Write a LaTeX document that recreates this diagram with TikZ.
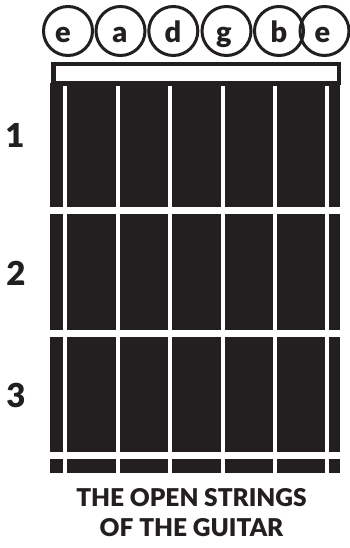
\documentclass[tikz,border=0pt]{standalone}
\usepackage{fontspec}
\setmainfont{Lato}[BoldFont={Lato Black}]
\definecolor{ink}{HTML}{231F20}
\tikzset{
  stringring/.style={circle, draw=ink, line width=3pt, minimum size=49pt, inner sep=0pt},
  stringname/.style={anchor=base, text=ink, font=\fontsize{29}{30}\selectfont\bfseries},
  fretnum/.style={anchor=base, text=ink, font=\fontsize{33}{35}\selectfont\bfseries},
  captionline/.style={anchor=base, text=ink, font=\fontsize{24.5}{26}\selectfont\bfseries},
  gap/.style={fill=white}
}
\begin{document}
\begin{tikzpicture}[x=1pt,y=-1pt]
\useasboundingbox (0,0) rectangle (350,548);
% fretboard
\fill[ink] (50,83) rectangle (340,473);
% nut
\draw[ink, line width=4.5pt] (53.25,64.25) rectangle (338.75,83);
% strings
\foreach \sx in {65,117.5,170,222.5,275,327}
  \fill[gap] (\sx-2,86) rectangle (\sx+2,473);
% frets
\foreach \fy in {207,330,452}
  \fill[gap] (50,\fy) rectangle (340,\fy+7);
% string circles
\node[stringring] (c1) at (68,31) {};
\node[stringring] (c2) at (120.5,31) {};
\node[stringring] (c3) at (173.3,31) {};
\node[stringring] (c4) at (226.5,31) {};
\node[stringring] (c5) at (279,31) {};
\node[stringring] (c6) at (324.5,31) {};
\node[stringname] (l1) at (63,43) {e};
\node[stringname] (l2) at (120,43) {a};
\node[stringname] (l3) at (173,43) {d};
\node[stringname] (l4) at (224,43) {g};
\node[stringname] (l5) at (279,43) {b};
\node[stringname] (l6) at (322.5,43) {e};
% fret numbers
\node[fretnum] (n1) at (15,148) {1};
\node[fretnum] (n2) at (16,285) {2};
\node[fretnum] (n3) at (16,407) {3};
% caption
\node[captionline] (t1) at (191.5,506) {THE OPEN STRINGS};
\node[captionline] (t2) at (191.5,536) {OF THE GUITAR};
\end{tikzpicture}
\end{document}
